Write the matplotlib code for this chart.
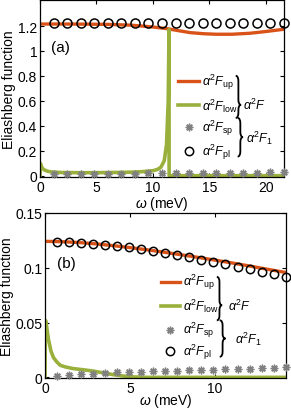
import numpy as np
import matplotlib
matplotlib.use('Agg')
import matplotlib.pyplot as plt
from matplotlib.path import Path
from matplotlib.patches import PathPatch

plt.rcParams['font.family'] = ['Liberation Sans', 'DejaVu Sans']
plt.rcParams['mathtext.fontset'] = 'custom'
plt.rcParams['mathtext.rm'] = 'Liberation Sans'
plt.rcParams['mathtext.it'] = 'Liberation Sans:italic'

ORANGE = '#D95319'
GREEN = '#9AB03C'
GREY = '#808080'

# ---- panel (a) data ----
w_up_a = [0, 2, 4, 6, 8, 9, 10, 11.3, 12.3, 13.3, 14.5, 15.6, 17, 18.6, 20, 21.6]
up_a = [1.216, 1.216, 1.215, 1.213, 1.207, 1.200, 1.192, 1.178, 1.162, 1.147, 1.138, 1.134, 1.134, 1.142, 1.156, 1.174]

w_low_a = [0, 0.03, 0.1, 0.2, 0.4, 0.7, 1, 2, 4, 6, 8, 9, 10, 10.4, 10.7, 11.0, 11.2, 11.35, 11.42, 11.43, 21.6]
low_a = [0, 0.10, 0.08, 0.06, 0.045, 0.035, 0.03, 0.025, 0.024, 0.025, 0.028, 0.032, 0.04, 0.05, 0.068, 0.12, 0.25, 0.6, 1.17, 0, 0]

w_pts_a = [1.2 * k for k in range(1, 19)]
sp_a = [0.014, 0.014, 0.015, 0.015, 0.016, 0.016, 0.017, 0.018, 0.018, 0.019, 0.020, 0.021, 0.022, 0.023, 0.024, 0.025, 0.026, 0.027]
pl_a = [1.222] * 18

# ---- panel (b) data ----
w_up_b = [0, 1, 2, 3, 4, 5, 6, 7, 8, 9, 10, 11, 12, 13, 14.2]
up_b = [0.1240, 0.1237, 0.1229, 0.1217, 0.1201, 0.1183, 0.1163, 0.1141, 0.1118, 0.1094,
        0.1069, 0.1043, 0.1016, 0.0988, 0.0955]

w_low_b = [0, 0.03, 0.1, 0.2, 0.35, 0.5, 0.7, 0.9, 1.2, 1.65, 2.2, 2.8, 3.4, 4.0, 4.6, 5.2, 6, 14.2]
low_b = [0, 0.052, 0.046, 0.035, 0.024, 0.018, 0.014, 0.011, 0.0095, 0.008, 0.007, 0.0058,
         0.0042, 0.0025, 0.0012, 0.0004, 0, 0]

w_pts_b = [0.708 * k for k in range(1, 21)]
sp_b = [0.0015, 0.0022, 0.0029, 0.0035, 0.0040, 0.0045, 0.0049, 0.0053, 0.0056, 0.0059,
        0.0062, 0.0065, 0.0068, 0.0071, 0.0074, 0.0077, 0.0080, 0.0083, 0.0086, 0.0090]
pl_b = [0.1237, 0.1234, 0.1228, 0.1220, 0.1210, 0.1198, 0.1184, 0.1168, 0.1151, 0.1133,
        0.1114, 0.1094, 0.1073, 0.1052, 0.1031, 0.1010, 0.0988, 0.0965, 0.0942, 0.0918]

labels = [r'$\alpha^2F_{\rm up}$', r'$\alpha^2F_{\rm low}$', r'$\alpha^2F_{\rm sp}$', r'$\alpha^2F_{\rm pl}$']

STAR = dict(ls='none', marker=(8, 2, 0), ms=5.5, mew=1.0, color=GREY)
CIRC = dict(ls='none', marker='o', mew=1.1, mfc='none', mec='k')


def brace(ax, x0, w, ytop, ybot, ytip, r):
    xm = x0 + w * 0.5
    xt = x0 + w
    verts = [(x0, ytop), (xm, ytop), (xm, ytop - r), (xm, ytip + r),
             (xm, ytip), (xt, ytip), (xm, ytip), (xm, ytip - r),
             (xm, ybot + r), (xm, ybot), (x0, ybot)]
    codes = [Path.MOVETO, Path.CURVE3, Path.CURVE3, Path.LINETO,
             Path.CURVE3, Path.CURVE3, Path.CURVE3, Path.CURVE3,
             Path.LINETO, Path.CURVE3, Path.CURVE3]
    ax.add_patch(PathPatch(Path(verts, codes), fill=False, lw=1.3, color='k',
                           transform=ax.transAxes, clip_on=False))


def legend(ax, hx0, hx1, tx, rows, ms, fs):
    ax.plot([hx0, hx1], [rows[0]] * 2, color=ORANGE, lw=2.4, transform=ax.transAxes)
    ax.plot([hx0, hx1], [rows[1]] * 2, color=GREEN, lw=2.6, transform=ax.transAxes)
    xc = (hx0 + hx1) / 2
    ax.plot([xc], [rows[2]], transform=ax.transAxes, **STAR)
    ax.plot([xc], [rows[3]], ms=ms, transform=ax.transAxes, **CIRC)
    for y, lab in zip(rows, labels):
        ax.text(tx, y, lab, transform=ax.transAxes, fontsize=fs, va='center', ha='left')


def style(ax):
    ax.tick_params(direction='in', top=True, right=True, length=3, width=0.8, labelsize=10, pad=2)
    for s in ax.spines.values():
        s.set_linewidth(0.9)


fig = plt.figure(figsize=(2.91, 4.10), dpi=100)

# panel (a)
ax1 = fig.add_axes([0.1375, 0.566, 0.8385, 0.432])
ax1.plot(w_up_a, up_a, color=ORANGE, lw=2.4, zorder=2)
ax1.plot(w_low_a, low_a, color=GREEN, lw=2.6, zorder=2)
ax1.plot(w_pts_a, sp_a, zorder=3, clip_on=False, **STAR)
ax1.plot(w_pts_a, pl_a, ms=6.5, zorder=3, clip_on=False, **CIRC)
ax1.set_xlim(0, 21.6)
ax1.set_ylim(-0.01, 1.41)
ax1.set_xticks([0, 5, 10, 15, 20])
ax1.set_yticks([0, 0.2, 0.4, 0.6, 0.8, 1.0, 1.2])
ax1.set_yticklabels(['0', '0.2', '0.4', '0.6', '0.8', '1', '1.2'])
ax1.set_xlabel(r'$\omega$ (meV)', fontsize=10, labelpad=0)
ax1.set_ylabel('Eliashberg function', fontsize=10, labelpad=1)
ax1.text(0.045, 0.735, '(a)', transform=ax1.transAxes, fontsize=11, va='center')
style(ax1)
legend(ax1, 0.566, 0.652, 0.664, [0.542, 0.407, 0.282, 0.147], 6, 9)
brace(ax1, 0.802, 0.022, 0.571, 0.333, 0.407, 0.03)
ax1.text(0.83, 0.407, r'$\alpha^2F$', transform=ax1.transAxes, fontsize=9, va='center')
brace(ax1, 0.81, 0.022, 0.333, 0.115, 0.225, 0.03)
ax1.text(0.845, 0.225, r'$\alpha^2F_1$', transform=ax1.transAxes, fontsize=9, va='center')

# panel (b)
ax2 = fig.add_axes([0.1546, 0.0745, 0.827, 0.404])
ax2.plot(w_up_b, up_b, color=ORANGE, lw=2.4, zorder=2)
ax2.plot(w_low_b, low_b, color=GREEN, lw=2.6, zorder=2)
ax2.plot(w_pts_b, sp_b, zorder=3, clip_on=False, **STAR)
ax2.plot(w_pts_b, pl_b, ms=6, zorder=3, clip_on=False, **CIRC)
ax2.set_xlim(0, 14.16)
ax2.set_ylim(-0.001, 0.15)
ax2.set_xticks([0, 5, 10])
ax2.set_yticks([0, 0.05, 0.1, 0.15])
ax2.set_yticklabels(['0', '0.05', '0.1', '0.15'])
ax2.set_xlabel(r'$\omega$ (meV)', fontsize=10, labelpad=-3)
ax2.set_ylabel('Eliashberg function', fontsize=10, labelpad=1)
ax2.text(0.05, 0.7, '(b)', transform=ax2.transAxes, fontsize=11, va='center')
style(ax2)
legend(ax2, 0.482, 0.561, 0.573, [0.584, 0.44, 0.295, 0.163], 6, 9)
brace(ax2, 0.714, 0.022, 0.613, 0.351, 0.442, 0.03)
ax2.text(0.76, 0.442, r'$\alpha^2F$', transform=ax2.transAxes, fontsize=9, va='center')
brace(ax2, 0.726, 0.024, 0.351, 0.131, 0.241, 0.03)
ax2.text(0.79, 0.241, r'$\alpha^2F_1$', transform=ax2.transAxes, fontsize=9, va='center')

fig.savefig('out.png', dpi=100)
